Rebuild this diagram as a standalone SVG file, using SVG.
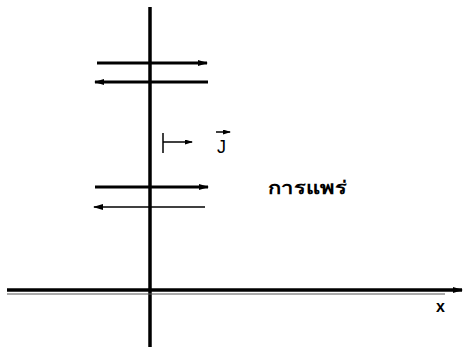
<svg xmlns="http://www.w3.org/2000/svg" width="464" height="349" viewBox="0 0 464 349">
  <style>
    .ax { stroke: #000; stroke-width: 3.5; fill: none; }
    .thick { stroke: #000; stroke-width: 3; fill: none; }
    .thin { stroke: #000; stroke-width: 1.5; fill: none; }
    .lbl { font-family: "Liberation Sans", "DejaVu Sans", sans-serif; fill: #000; }
    .thai { font-family: "Noto Sans", "DejaVu Sans", sans-serif; fill: #000; font-weight: bold; }
  </style>
  <defs>
    <marker id="ah" viewBox="0 0 10 6" refX="9" refY="3" markerUnits="userSpaceOnUse" markerWidth="10" markerHeight="6" orient="auto">
      <path d="M0,0 L10,3 L0,6 Z" fill="#000"/>
    </marker>
    <marker id="ahs" viewBox="0 0 8 5" refX="7" refY="2.5" markerUnits="userSpaceOnUse" markerWidth="8" markerHeight="5" orient="auto">
      <path d="M0,0 L8,2.5 L0,5 Z" fill="#000"/>
    </marker>
  </defs>
  <rect width="464" height="349" fill="#fff"/>
  <g id="axes">
    <line class="ax" x1="150" y1="7" x2="150" y2="347"/>
    <line class="ax" x1="7" y1="290" x2="462" y2="290" marker-end="url(#ah)"/>
    <line x1="7" y1="294" x2="445" y2="294" stroke="#555" stroke-width="1"/>
  </g>
  <g id="connectors">
    <line class="thick" x1="97" y1="63" x2="207" y2="63" marker-end="url(#ah)"/>
    <line class="thick" x1="208" y1="82" x2="95" y2="82" marker-end="url(#ah)"/>
    <line class="thick" x1="95" y1="187" x2="208" y2="187" marker-end="url(#ah)"/>
    <line class="thin" x1="205" y1="207" x2="94" y2="207" marker-end="url(#ah)"/>
    <line class="thin" x1="163" y1="133" x2="163" y2="153"/>
    <line class="thin" x1="163" y1="142" x2="192" y2="142" marker-end="url(#ahs)"/>
  </g>
  <g id="flux-label">
    <text class="lbl" x="217" y="153" font-size="18">J</text>
    <line class="thin" x1="216" y1="132" x2="230" y2="132" marker-end="url(#ahs)"/>
  </g>
  <g id="diffusion-label">
    <text class="thai" x="268" y="194" font-size="18" textLength="79" lengthAdjust="spacingAndGlyphs">การแพร่</text>
  </g>
  <g id="x-label">
    <text class="lbl" x="436" y="312" font-size="16" font-weight="bold">x</text>
  </g>
</svg>
